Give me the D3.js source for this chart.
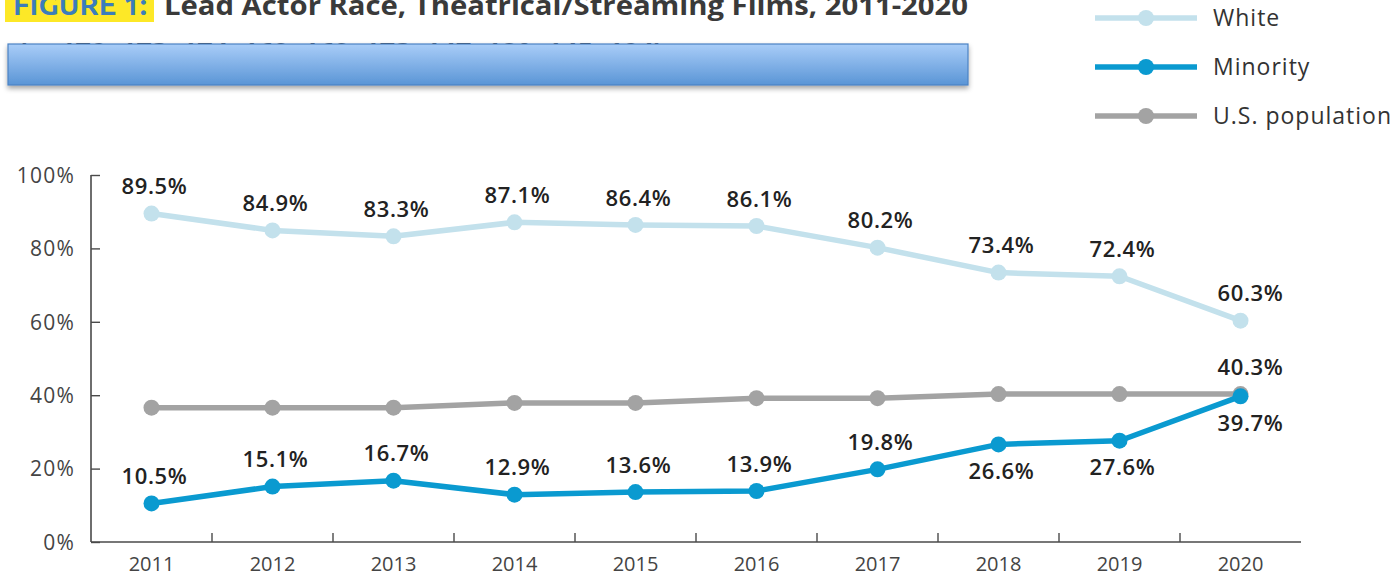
<!DOCTYPE html>
<html>
<head>
<meta charset="utf-8">
<script src="https://cdn.jsdelivr.net/npm/d3@7"></script>
<style>
  html, body { margin: 0; padding: 0; background: #fff; }
  svg { display: block; }
</style>
</head>
<body>
<svg id="chart" width="1393" height="581"></svg>
<script>
const years = ["2011","2012","2013","2014","2015","2016","2017","2018","2019","2020"];
const whiteValues = [89.5, 84.9, 83.3, 87.1, 86.4, 86.1, 80.2, 73.4, 72.4, 60.3];
const minorityValues = [10.5, 15.1, 16.7, 12.9, 13.6, 13.9, 19.8, 26.6, 27.6, 39.7];
const usPopValues = [36.6, 36.6, 36.6, 37.9, 37.9, 39.2, 39.2, 40.3, 40.3, 40.3];
const yTicks = [0, 20, 40, 60, 80, 100];
const seriesNames = ["White", "Minority", "U.S. population"];
const titleLead = "FIGURE 1:";
const titleRest = "Lead Actor Race, Theatrical/Streaming Films, 2011-2020";
const subtitle = "(n=172, 173, 174, 169, 169, 173, 147, 180, 145, 124)";
// which labels appear: null = no label, "a" above, "b" below
const whiteLabelPos = ["a","a","a","a","a","a","a","a","a","a"];
const minorityLabelPos = ["a","a","a","a","a","a","a","b","b","b"];
const usPopLabelPos = [null,null,null,null,null,null,null,null,null,"a"];

const svg = d3.select("#chart");
const fontMain = "'Open Sans', 'DejaVu Sans', sans-serif";

const x = d3.scaleBand().domain(years).range([91, 1301]);
const cx = d => x(d) + x.bandwidth() / 2;
const y = d3.scaleLinear().domain([0, 100]).range([542, 175]);

// ---- Title ----
const defs = svg.append("defs");
const grad = defs.append("linearGradient").attr("id", "boxGrad")
  .attr("x1", 0).attr("y1", 0).attr("x2", 0).attr("y2", 1);
grad.append("stop").attr("offset", "0%").attr("stop-color", "#a9cdf8");
grad.append("stop").attr("offset", "100%").attr("stop-color", "#5a95d6");
const shadow = defs.append("filter").attr("id", "shadow")
  .attr("x", "-5%").attr("y", "-30%").attr("width", "110%").attr("height", "180%");
shadow.append("feDropShadow").attr("dx", 0).attr("dy", 3).attr("stdDeviation", 2.5)
  .attr("flood-color", "#000").attr("flood-opacity", 0.35);

svg.append("rect").attr("x", 5).attr("y", -10).attr("width", 149).attr("height", 32)
  .attr("fill", "#fde827");
svg.append("text").attr("x", 13).attr("y", 15)
  .attr("font-family", "'Ubuntu', 'Open Sans', sans-serif").attr("font-weight", 700)
  .attr("font-size", 27).attr("fill", "#3b7dbb")
  .attr("textLength", 134).attr("lengthAdjust", "spacingAndGlyphs")
  .text(titleLead);
svg.append("text").attr("x", 164).attr("y", 15)
  .attr("font-family", "'Open Sans', sans-serif").attr("font-weight", 700)
  .attr("font-size", 27).attr("fill", "#3a3a3a")
  .attr("textLength", 804).attr("lengthAdjust", "spacingAndGlyphs")
  .text(titleRest);
svg.append("text").attr("x", 18).attr("y", 62)
  .attr("font-family", "'Open Sans', sans-serif").attr("font-weight", 700)
  .attr("font-size", 26).attr("fill", "#3a3a3a")
  .attr("textLength", 645).attr("lengthAdjust", "spacingAndGlyphs")
  .text(subtitle);
svg.append("rect").attr("x", 8).attr("y", 44).attr("width", 960).attr("height", 41)
  .attr("fill", "url(#boxGrad)").attr("stroke", "#4b82c3").attr("stroke-width", 1.2)
  .attr("filter", "url(#shadow)");

// ---- Axes ----
const axisColor = "#4a4a4a";
const yAxis = svg.append("g").attr("transform", "translate(91,0)")
  .call(d3.axisLeft(y).tickValues(yTicks).tickSizeInner(-9).tickSizeOuter(0)
    .tickPadding(16).tickFormat(d => d + "%"));
yAxis.select(".domain").attr("stroke", axisColor).attr("stroke-width", 1.6)
  .attr("d", `M0,${y(100)}V${y(0)}`);
yAxis.selectAll(".tick line").attr("stroke", axisColor).attr("stroke-width", 1.4);
yAxis.selectAll(".tick text").attr("font-family", fontMain).attr("font-size", 21)
  .attr("font-weight", 400).attr("fill", "#444").attr("letter-spacing", 1.2)
  .attr("dy", "0.35em");

const xAxis = svg.append("g").attr("transform", `translate(0,${y(0)})`)
  .call(d3.axisBottom(x).tickSize(0).tickPadding(15));
xAxis.select(".domain").attr("stroke", axisColor).attr("stroke-width", 1.6)
  .attr("d", `M91,0H1301`);
xAxis.selectAll(".tick text").attr("font-family", fontMain).attr("font-size", 20)
  .attr("font-weight", 400).attr("fill", "#444");
xAxis.selectAll(".boundary").data(years.slice(1)).join("line")
  .attr("x1", d => x(d)).attr("x2", d => x(d)).attr("y1", 0).attr("y2", -9)
  .attr("stroke", axisColor).attr("stroke-width", 1.4);

// ---- Series ----
const series = [
  { name: seriesNames[2], values: usPopValues, color: "#a3a3a3", pos: usPopLabelPos },
  { name: seriesNames[0], values: whiteValues, color: "#c3e1ec", pos: whiteLabelPos },
  { name: seriesNames[1], values: minorityValues, color: "#0a9ad0", pos: minorityLabelPos }
];
const line = d3.line().x((v, i) => cx(years[i])).y(v => y(v));

series.forEach(s => {
  const g = svg.append("g");
  g.append("path").attr("d", line(s.values)).attr("fill", "none")
    .attr("stroke", s.color).attr("stroke-width", 5.5).attr("stroke-linejoin", "round");
  g.selectAll("circle").data(s.values).join("circle")
    .attr("cx", (v, i) => cx(years[i])).attr("cy", v => y(v)).attr("r", 8)
    .attr("fill", s.color);
});

series.forEach(s => {
  svg.append("g").selectAll("text")
    .data(s.values.map((v, i) => ({ v, i, p: s.pos[i] })).filter(d => d.p))
    .join("text")
    .attr("x", d => cx(years[d.i]) + (d.i === years.length - 1 ? 10 : 3))
    .attr("y", d => y(d.v) + (d.p === "a" ? -27 : 27))
    .attr("dy", "0.35em")
    .attr("text-anchor", "middle")
    .attr("font-family", fontMain).attr("font-weight", 600).attr("font-size", 22)
    .attr("letter-spacing", 0.6)
    .attr("fill", "#222")
    .text(d => d.v.toFixed(1) + "%");
});

// ---- Legend ----
const legendItems = [series[1], series[2], series[0]];
const lg = svg.append("g");
legendItems.forEach((s, i) => {
  const ly = 18 + i * 49;
  lg.append("line").attr("x1", 1095).attr("x2", 1197).attr("y1", ly).attr("y2", ly)
    .attr("stroke", s.color).attr("stroke-width", 5.5);
  lg.append("circle").attr("cx", 1146).attr("cy", ly).attr("r", 8).attr("fill", s.color);
  lg.append("text").attr("x", 1213).attr("y", ly).attr("dy", "0.35em")
    .attr("font-family", fontMain).attr("font-size", 23).attr("font-weight", 400)
    .attr("letter-spacing", 1).attr("fill", "#333").text(s.name);
});
</script>
</body>
</html>
